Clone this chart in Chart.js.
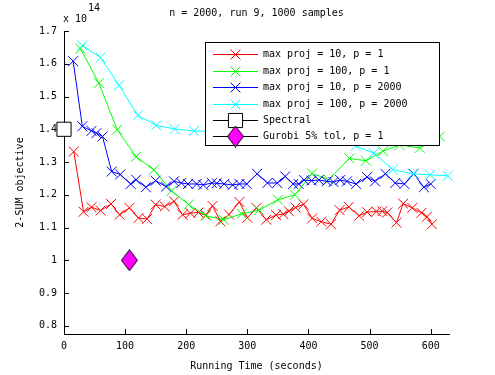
<!DOCTYPE html>
<html lang="en">
<head>
<meta charset="UTF-8">
<title>2-SUM objective vs running time</title>
<style>
  *{margin:0;padding:0;box-sizing:border-box;}
  body{background:#fff;}
  #box{width:495px;height:375px;}
</style>
<script src="https://cdn.jsdelivr.net/npm/chart.js@4.4.0/dist/chart.umd.min.js"></script>
</head>
<body>
<div id="box"><canvas id="chart" width="495" height="375"></canvas></div>
<script>
// values: time in seconds, objective in units of 1e14
const redT   = [16,32,45,60,77,91,107,122,136,150,165,180,194,207,220,232,243,256,270,287,300,315,331,347,359,368,379,392,406,421,437,451,466,483,496,511,521,529,544,555,570,585,594,602];
const redV   = [1.332,1.148,1.162,1.152,1.172,1.139,1.160,1.129,1.126,1.170,1.164,1.180,1.139,1.144,1.146,1.138,1.166,1.119,1.140,1.178,1.130,1.160,1.124,1.138,1.141,1.150,1.161,1.171,1.128,1.118,1.110,1.153,1.163,1.136,1.147,1.149,1.150,1.146,1.115,1.173,1.160,1.145,1.133,1.110];
const greenT = [27,57,87,118,147,176,204,232,261,291,319,350,378,406,433,467,494,522,549,582,615];
const greenV = [1.646,1.541,1.399,1.316,1.276,1.212,1.170,1.136,1.124,1.142,1.153,1.185,1.200,1.265,1.246,1.311,1.304,1.333,1.352,1.343,1.378];
const blueT  = [15,30,45,53,63,78,92,109,118,134,150,167,180,192,203,217,228,242,250,262,276,287,299,316,333,349,362,375,384,393,405,417,430,441,452,463,478,496,509,526,542,557,572,589,600];
const blueV  = [1.608,1.409,1.395,1.388,1.378,1.271,1.262,1.233,1.246,1.223,1.243,1.225,1.241,1.236,1.233,1.233,1.230,1.236,1.235,1.233,1.230,1.233,1.233,1.264,1.236,1.236,1.256,1.233,1.233,1.245,1.243,1.245,1.241,1.239,1.245,1.241,1.233,1.254,1.241,1.264,1.236,1.233,1.264,1.223,1.233];
const cyanT  = [30,60,90,121,151,181,213,243,273,304,334,364,395,425,455,477,507,538,571,599,628];
const cyanV  = [1.656,1.619,1.534,1.442,1.412,1.401,1.395,1.393,1.391,1.390,1.388,1.386,1.383,1.378,1.368,1.349,1.327,1.277,1.264,1.261,1.258];
const spectralT = [0];
const spectralV = [1.4];
const gurobiT = [107];
const gurobiV = [1.0];

const labels = ["max proj = 10, p = 1", "max proj = 100, p = 1", "max proj = 10, p = 2000",
                "max proj = 100, p = 2000", "Spectral", "Gurobi 5% tol, p = 1"];
const xTicks = [0,100,200,300,400,500,600];
const yTicks = [0.8,0.9,1.0,1.1,1.2,1.3,1.4,1.5,1.6,1.7];

const FONT = "'DejaVu Sans Mono', monospace";
const pts = (t, v) => t.map((x, i) => ({x, y: v[i]}));

// magenta diamond marker (taller than wide)
const diamond = document.createElement("canvas");
diamond.width = 17; diamond.height = 22;
(() => {
  const c = diamond.getContext("2d");
  c.beginPath();
  c.moveTo(8.5, 0.5); c.lineTo(16.5, 11); c.lineTo(8.5, 21.5); c.lineTo(0.5, 11); c.closePath();
  c.fillStyle = "#ff00ff"; c.fill();
  c.strokeStyle = "#000"; c.lineWidth = 1; c.stroke();
})();

function series(label, t, v, color, order) {
  return {
    label, data: pts(t, v), order,
    borderColor: color, borderWidth: 1,
    pointStyle: "crossRot", pointRadius: 7, pointBorderWidth: 1,
    pointBorderColor: color, pointBackgroundColor: color,
    clip: false
  };
}

const datasets = [
  series(labels[0], redT, redV, "#ff0000", 6),
  series(labels[1], greenT, greenV, "#00ff00", 5),
  series(labels[2], blueT, blueV, "#0000ff", 4),
  series(labels[3], cyanT, cyanV, "#00ffff", 3),
  { label: labels[4], data: pts(spectralT, spectralV), order: 2,
    borderColor: "#000", borderWidth: 1, pointStyle: "rect", pointRadius: 10,
    pointBorderColor: "#000", pointBackgroundColor: "#fff", pointBorderWidth: 1, clip: false },
  { label: labels[5], data: pts(gurobiT, gurobiV), order: 1,
    borderColor: "#000", borderWidth: 1, pointStyle: diamond, pointRadius: 10, clip: false }
];

// MATLAB-like extras: inward ticks (under the data), title, exponent label
const axesExtras = {
  id: "axesExtras",
  beforeDatasetsDraw(chart) {
    const {ctx, chartArea: a, scales: {x, y}} = chart;
    ctx.save();
    ctx.strokeStyle = "#000"; ctx.lineWidth = 1;
    ctx.beginPath();
    yTicks.forEach(v => {
      const py = Math.round(y.getPixelForValue(v)) + 0.5;
      ctx.moveTo(a.left, py); ctx.lineTo(a.left + 5, py);
    });
    xTicks.forEach(v => {
      const px = Math.round(x.getPixelForValue(v)) + 0.5;
      ctx.moveTo(px, a.bottom); ctx.lineTo(px, a.bottom - 5);
    });
    ctx.stroke();
    ctx.fillStyle = "#000";
    ctx.font = "10px " + FONT;
    ctx.textBaseline = "middle";
    ctx.textAlign = "center";
    ctx.fillText("n = 2000, run 9, 1000 samples", (a.left + a.right) / 2, 13);
    ctx.textAlign = "left";
    ctx.fillText("x 10", 63, 19);
    ctx.fillText("14", 88, 8);
    ctx.restore();
  }
};

// boxed legend with line + marker samples
const boxLegend = {
  id: "boxLegend",
  afterDatasetsDraw(chart) {
    const {ctx} = chart;
    const L = 205.5, T = 42.5, W = 234, H = 103;
    ctx.save();
    ctx.fillStyle = "#fff"; ctx.fillRect(L, T, W, H);
    ctx.strokeStyle = "#000"; ctx.lineWidth = 1; ctx.strokeRect(L, T, W, H);
    ctx.font = "10px " + FONT;
    ctx.textBaseline = "middle"; ctx.textAlign = "left";
    chart.data.datasets.forEach((ds, i) => {
      const ry = Math.round(54.3 + i * 16.4) + 0.5;
      ctx.strokeStyle = ds.borderColor;
      ctx.beginPath(); ctx.moveTo(213, ry); ctx.lineTo(258, ry); ctx.stroke();
      ctx.strokeStyle = ds.pointBorderColor || ds.borderColor;
      ctx.fillStyle = ds.pointBackgroundColor || "#fff";
      Chart.helpers.drawPoint(ctx, {pointStyle: ds.pointStyle, radius: ds.pointRadius,
        rotation: 0, borderWidth: ds.pointBorderWidth || 1}, 235.5, ry);
      ctx.fillStyle = "#000";
      ctx.fillText(ds.label, 263, ry);
    });
    ctx.restore();
  }
};

new Chart(document.getElementById("chart"), {
  type: "line",
  data: { datasets },
  options: {
    responsive: false,
    animation: false,
    events: [],
    layout: { padding: { left: 0, right: 46, top: 31, bottom: 0 } },
    plugins: { legend: { display: false }, tooltip: { enabled: false }, title: { display: false } },
    scales: {
      x: {
        type: "linear", min: 0, max: 630,
        afterBuildTicks: s => { s.ticks = xTicks.map(value => ({value})); },
        afterFit: s => { s.height = 41; },
        grid: { display: false, drawTicks: false },
        border: { display: true, color: "#000", width: 1 },
        ticks: { color: "#000", padding: 6, maxRotation: 0, font: { family: FONT, size: 10 } },
        title: { display: true, text: "Running Time (seconds)", color: "#000",
                 padding: { top: 0, bottom: 3 }, font: { family: FONT, size: 10 } }
      },
      y: {
        type: "linear", min: 0.775, max: 1.7,
        afterBuildTicks: s => { s.ticks = yTicks.map(value => ({value})); },
        afterFit: s => { s.width = 64; },
        grid: { display: false, drawTicks: false },
        border: { display: true, color: "#000", width: 1 },
        ticks: { color: "#000", padding: 7, font: { family: FONT, size: 10 },
                 callback: v => String(Number(v.toFixed(1))) },
        title: { display: true, text: "2-SUM objective", color: "#000",
                 padding: { top: 14, bottom: 0 }, font: { family: FONT, size: 10 } }
      }
    }
  },
  plugins: [axesExtras, boxLegend]
});
</script>
</body>
</html>
